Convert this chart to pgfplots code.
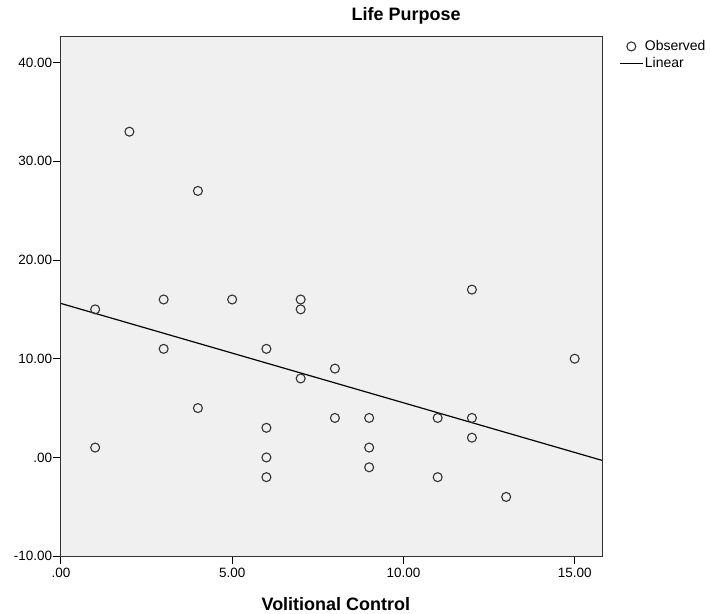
\documentclass[border=0pt]{standalone}
\usepackage{fontspec}
\setmainfont{Liberation Sans}
\usepackage{pgfplots}
\pgfplotsset{compat=1.18}
\definecolor{bgc}{HTML}{F0F0F0}
\pgfplotsset{
  obslegend/.style={legend image code/.code={\draw[mark repeat=2,mark phase=2,##1] plot coordinates {(0pt,0pt) (11.5pt,0pt) (23pt,0pt)};}},
  linlegend/.style={legend image code/.code={\draw[##1] (0pt,0pt) -- (23pt,0pt);}},
}
\begin{document}
\begin{tikzpicture}
\begin{axis}[
  at={(0pt,0pt)}, anchor=south west,
  scale only axis, width=542pt, height=520pt,
  xmin=0, xmax=15.8, ymin=-10, ymax=42.6,
  axis background/.style={fill=bgc},
  axis line style={draw=black!80, line width=1.1pt},
  xtick={0,5,10,15}, xticklabels={.00,5.00,10.00,15.00},
  ytick={-10,0,10,20,30,40}, yticklabels={-10.00,.00,10.00,20.00,30.00,40.00},
  tick align=outside, major tick length=8pt,
  xtick pos=bottom, ytick pos=left,
  tick style={black, line width=1pt},
  ticklabel style={font=\fontsize{13.5}{15}\selectfont},
  yticklabel style={inner sep=0.5pt},
  xticklabel style={inner sep=3.5pt},
  /pgf/number format/assume math mode=true,
  title={\textbf{Life Purpose}},
  title style={at={(axis description cs:0.638,1)}, anchor=base, yshift=10pt, font=\fontsize{18}{20}\selectfont},
  xlabel={\textbf{Volitional Control}},
  xlabel style={at={(axis description cs:0.508,0)}, anchor=base, yshift=-54pt, font=\fontsize{18}{20}\selectfont},
  legend style={at={(axis description cs:1,1)}, anchor=north west, xshift=14pt, yshift=0pt,
    draw=none, fill=none, font=\fontsize{14}{16}\selectfont, row sep=2.5pt,
    nodes={inner sep=1.5pt}},
  legend cell align=left,
]
\addplot[only marks, mark=o, mark size=4.5pt, mark options={draw=black!80, line width=1.1pt}, obslegend]
  coordinates {
  (1,15) (1,1) (2,33) (3,16) (3,11) (4,27) (4,5) (5,16)
  (6,11) (6,3) (6,0) (6,-2) (7,16) (7,15) (7,8) (8,9) (8,4)
  (9,4) (9,1) (9,-1) (11,4) (11,-2) (12,17) (12,4) (12,2) (13,-4) (15,10)
  };
\addlegendentry{Observed}
\addplot[black, line width=1.2pt, linlegend]
  coordinates {(0,15.6) (15.8,-0.3)};
\addlegendentry{Linear}
\end{axis}
\path[use as bounding box] (-61pt,-56pt) rectangle (649pt,557pt);
\end{tikzpicture}
\end{document}
